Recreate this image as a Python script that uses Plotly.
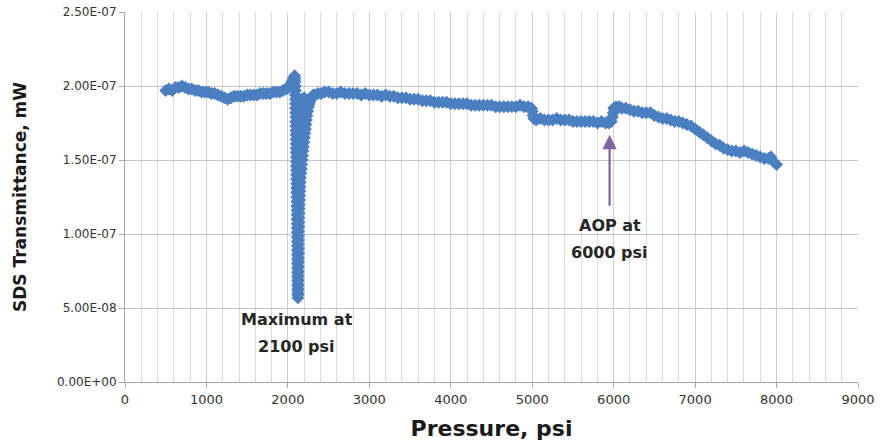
import plotly.graph_objects as go

# Pressure sweep (psi) and SDS transmittance (in units of 1e-7 mW)
pressure_low = [500, 540, 580, 620, 660, 700, 740, 780, 820, 860, 900, 940, 980,
                1020, 1060, 1100, 1140, 1180, 1220, 1260, 1300, 1340, 1380, 1420,
                1460, 1500, 1540, 1580, 1620, 1660, 1700, 1740, 1780, 1820, 1860,
                1900, 1940, 1980, 2010, 2030, 2050, 2065]
trans_low = [1.97, 1.98, 1.97, 1.99, 1.99, 2.00, 1.99, 1.98, 1.98, 1.97, 1.97, 1.96, 1.96,
             1.96, 1.95, 1.95, 1.94, 1.93, 1.92, 1.91, 1.92, 1.93, 1.93, 1.93,
             1.93, 1.94, 1.94, 1.94, 1.94, 1.95, 1.95, 1.95, 1.95, 1.96, 1.96,
             1.96, 1.97, 1.98, 1.99, 2.01, 2.03, 2.05]

# Sharp minimum near 2100 psi: fall, recovery and the scatter between them
pressure_fall = [2083, 2086, 2088, 2090, 2092, 2093, 2094, 2095, 2096, 2097, 2098, 2098,
                 2099, 2100, 2100, 2101, 2102, 2102, 2103, 2104, 2104, 2105, 2106, 2106,
                 2107, 2108, 2108, 2109, 2110, 2110, 2111, 2112, 2112, 2113, 2114, 2114,
                 2115, 2116, 2116, 2117, 2118, 2118, 2119, 2119, 2120, 2120, 2121, 2121,
                 2122, 2122, 2123, 2123]
trans_fall = [2.07, 2.05, 2.03, 2.00, 1.97, 1.94, 1.91, 1.88, 1.85, 1.82, 1.79, 1.76,
              1.73, 1.70, 1.67, 1.64, 1.61, 1.58, 1.55, 1.52, 1.49, 1.46, 1.43, 1.40,
              1.37, 1.34, 1.31, 1.28, 1.25, 1.22, 1.19, 1.16, 1.13, 1.10, 1.07, 1.04,
              1.01, 0.98, 0.95, 0.92, 0.89, 0.86, 0.83, 0.80, 0.77, 0.74, 0.71, 0.68,
              0.65, 0.62, 0.59, 0.57]

pressure_rise = [2124, 2125, 2126, 2127, 2127, 2128, 2128, 2129, 2129, 2130, 2130, 2131,
                 2131, 2132, 2133, 2134, 2134, 2135, 2137, 2139, 2141, 2143, 2145, 2147,
                 2149, 2151, 2155, 2159, 2164, 2169, 2174, 2179, 2184, 2190, 2196, 2202,
                 2208, 2214, 2220, 2227, 2234, 2242, 2252, 2262, 2274, 2288, 2300, 2315]
trans_rise = [0.60, 0.63, 0.66, 0.69, 0.72, 0.75, 0.78, 0.81, 0.84, 0.87, 0.90, 0.93,
              0.96, 0.99, 1.02, 1.05, 1.08, 1.11, 1.14, 1.17, 1.20, 1.23, 1.26, 1.29,
              1.32, 1.35, 1.38, 1.41, 1.44, 1.47, 1.50, 1.53, 1.56, 1.59, 1.62, 1.65,
              1.68, 1.71, 1.74, 1.77, 1.80, 1.83, 1.86, 1.88, 1.90, 1.92, 1.93, 1.94]

pressure_scatter = [2150, 2175, 2200, 2140, 2165, 2190, 2130, 2155, 2180, 2125, 2150, 2175,
                    2120, 2145, 2165, 2125, 2150, 2130, 2150]
trans_scatter = [1.90, 1.91, 1.92, 1.85, 1.86, 1.87, 1.78, 1.80, 1.82, 1.70, 1.72, 1.74,
                 1.62, 1.64, 1.66, 1.55, 1.56, 1.47, 1.45]

pressure_mid = [2330, 2370, 2410, 2450, 2500, 2550, 2600, 2650, 2700, 2750, 2800, 2850,
                2900, 2950, 3000, 3050, 3100, 3150, 3200, 3250, 3300, 3350, 3400, 3450,
                3500, 3550, 3600, 3650, 3700, 3750, 3800, 3850, 3900, 3950, 4000, 4050,
                4100, 4150, 4200, 4250, 4300, 4350, 4400, 4450, 4500, 4550, 4600, 4650,
                4700, 4750, 4800, 4850, 4900, 4950, 4990, 5000, 5010, 5020, 5050, 5100,
                5150, 5200, 5250, 5300, 5350, 5400, 5450, 5500, 5550, 5600, 5650, 5700,
                5750, 5800, 5850, 5900, 5940, 5970, 5985, 5995]
trans_mid = [1.94, 1.95, 1.95, 1.96, 1.96, 1.95, 1.95, 1.96, 1.95, 1.95, 1.95, 1.95,
             1.94, 1.95, 1.94, 1.94, 1.94, 1.93, 1.94, 1.93, 1.93, 1.92, 1.92, 1.92,
             1.91, 1.91, 1.91, 1.90, 1.90, 1.90, 1.89, 1.89, 1.89, 1.89, 1.88, 1.88,
             1.88, 1.88, 1.88, 1.87, 1.87, 1.87, 1.87, 1.87, 1.87, 1.86, 1.86, 1.86,
             1.86, 1.86, 1.86, 1.87, 1.86, 1.86, 1.85, 1.83, 1.80, 1.78, 1.77, 1.78,
             1.77, 1.77, 1.77, 1.78, 1.77, 1.77, 1.77, 1.76, 1.76, 1.76, 1.76, 1.76,
             1.76, 1.75, 1.76, 1.75, 1.75, 1.76, 1.79, 1.82]

pressure_high = [6000, 6030, 6070, 6100, 6150, 6200, 6250, 6300, 6350, 6400, 6450, 6500,
                 6550, 6600, 6650, 6700, 6750, 6800, 6850, 6900, 6950, 7000, 7050, 7100,
                 7150, 7200, 7250, 7300, 7350, 7400, 7450, 7500, 7550, 7600, 7650, 7700,
                 7750, 7800, 7850, 7900, 7930, 7960, 8000]
trans_high = [1.85, 1.86, 1.86, 1.85, 1.85, 1.84, 1.83, 1.83, 1.82, 1.82, 1.82, 1.80,
              1.79, 1.78, 1.78, 1.77, 1.76, 1.76, 1.75, 1.74, 1.73, 1.71, 1.69, 1.67,
              1.65, 1.63, 1.61, 1.60, 1.58, 1.57, 1.56, 1.56, 1.55, 1.56, 1.55, 1.54,
              1.53, 1.52, 1.51, 1.51, 1.52, 1.49, 1.47]

x_ticks = [0, 1000, 2000, 3000, 4000, 5000, 6000, 7000, 8000, 9000]
y_tick_vals = [0.0, 0.5e-7, 1.0e-7, 1.5e-7, 2.0e-7, 2.5e-7]
y_tick_text = ["0.00E+00", "5.00E-08", "1.00E-07", "1.50E-07", "2.00E-07", "2.50E-07"]

SCALE = 1e-7
pressure = (pressure_low + pressure_fall + pressure_scatter + pressure_rise
            + pressure_mid + pressure_high)
transmittance = [v * SCALE for v in (trans_low + trans_fall + trans_scatter + trans_rise
                                     + trans_mid + trans_high)]

FONT = "DejaVu Sans"
TEXT = "#262626"
BLUE = "#4a7fc1"
LABEL_FONT = dict(family=FONT, size=16, color=TEXT, weight="bold")

fig = go.Figure()
fig.add_trace(go.Scatter(
    x=pressure, y=transmittance, mode="markers",
    marker=dict(symbol="diamond", size=10, color=BLUE, line=dict(width=0)),
    showlegend=False, hoverinfo="x+y",
))

# Arrow pointing at the AOP step
fig.add_annotation(
    x=5950, y=1.67e-7, ax=5950, ay=1.18e-7, xref="x", yref="y", axref="x", ayref="y",
    text="", showarrow=True, arrowhead=2, arrowsize=1.3, arrowwidth=2.2,
    arrowcolor="#8064a2",
)
fig.add_annotation(x=5950, y=1.06e-7, xref="x", yref="y", text="AOP at",
                   showarrow=False, font=LABEL_FONT)
fig.add_annotation(x=5950, y=0.877e-7, xref="x", yref="y", text="6000 psi",
                   showarrow=False, font=LABEL_FONT)
fig.add_annotation(x=2110, y=0.42e-7, xref="x", yref="y", text="Maximum at",
                   showarrow=False, font=LABEL_FONT)
fig.add_annotation(x=2110, y=0.237e-7, xref="x", yref="y", text="2100 psi",
                   showarrow=False, font=LABEL_FONT)

fig.update_layout(
    width=880, height=447,
    margin=dict(l=125, r=22, t=12, b=65),
    paper_bgcolor="white", plot_bgcolor="white",
    font=dict(family=FONT, color=TEXT),
)
fig.update_xaxes(
    range=[0, 9000], tickvals=x_ticks, ticktext=[str(t) for t in x_ticks],
    tickfont=dict(family=FONT, size=13, color="#333333"),
    ticks="outside", ticklen=5, tickcolor="#a6a6a6",
    showline=True, linecolor="#a6a6a6", linewidth=1,
    showgrid=True, gridcolor="#d0d0d0", gridwidth=1,
    minor=dict(dtick=200, showgrid=True, gridcolor="#dadada", gridwidth=1),
    zeroline=False, automargin=False,
    title=dict(text="Pressure, psi", font=dict(family=FONT, size=22, color="#1a1a1a", weight="bold"), standoff=15),
)
fig.update_yaxes(
    range=[0, 2.5e-7], tickvals=y_tick_vals, ticktext=y_tick_text,
    tickfont=dict(family=FONT, size=12, color="#333333"),
    ticks="outside", ticklen=5, tickcolor="#a6a6a6",
    showline=True, linecolor="#a6a6a6", linewidth=1,
    showgrid=True, gridcolor="#c4c4c4", gridwidth=1,
    zeroline=False, automargin=False,
    title=dict(text="SDS Transmittance, mW", font=dict(family=FONT, size=17, color="#1a1a1a", weight="bold"), standoff=26),
)

fig.write_html("out.html")
